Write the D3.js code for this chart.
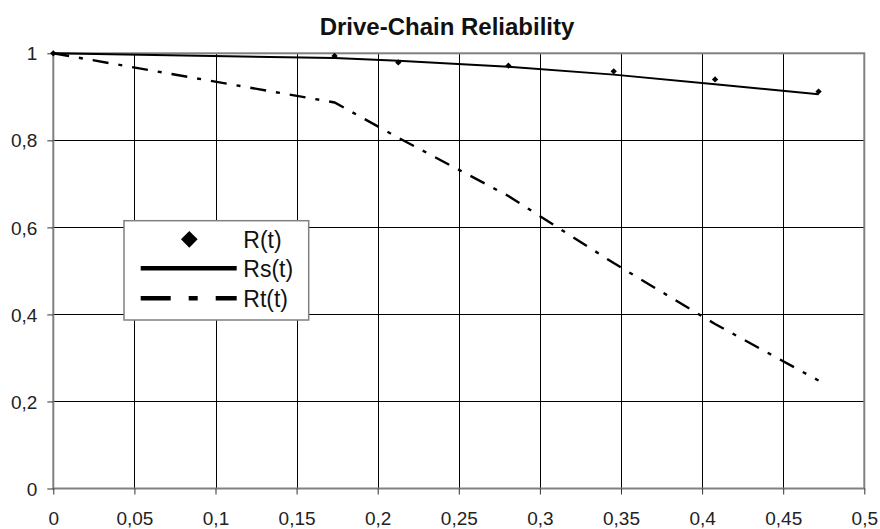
<!DOCTYPE html>
<html>
<head>
<meta charset="utf-8">
<script src="https://cdn.jsdelivr.net/npm/d3@7"></script>
<style>
  html, body { margin: 0; padding: 0; background: #fff; }
  svg { display: block; font-family: "Liberation Sans", Arial, sans-serif; }
</style>
</head>
<body>
<svg id="chart" width="880" height="529"></svg>
<script>
// ---- data ----
const title = "Drive-Chain Reliability";
const tValues = [0, 0.1734, 0.2127, 0.2806, 0.3455, 0.408, 0.4718];
const rValues = [1, 0.994, 0.979, 0.9715, 0.9586, 0.940, 0.912];   // R(t) points
const rsValues = [1, 0.989, 0.983, 0.969, 0.951, 0.929, 0.906];    // Rs(t) solid
const rtValues = [1, 0.887, 0.806, 0.672, 0.518, 0.378, 0.248];    // Rt(t) dash-dot
const xTicks = [0, 0.05, 0.1, 0.15, 0.2, 0.25, 0.3, 0.35, 0.4, 0.45, 0.5];
const xTickLabels = ["0", "0,05", "0,1", "0,15", "0,2", "0,25", "0,3", "0,35", "0,4", "0,45", "0,5"];
const yTicks = [0, 0.2, 0.4, 0.6, 0.8, 1];
const yTickLabels = ["0", "0,2", "0,4", "0,6", "0,8", "1"];
const seriesNames = ["R(t)", "Rs(t)", "Rt(t)"];

// ---- layout ----
const svg = d3.select("#chart");
const pL = 53.3, pR = 864.3, pT = 53.3, pB = 488.5;
const x = d3.scaleLinear().domain([0, 0.5]).range([pL, pR]);
const y = d3.scaleLinear().domain([0, 1]).range([pB, pT]);

// title
svg.append("text")
  .attr("x", 447).attr("y", 35)
  .attr("text-anchor", "middle")
  .attr("font-size", 24).attr("font-weight", "bold")
  .attr("fill", "#111")
  .text(title);

// grid lines
const grid = svg.append("g").attr("stroke", "#000").attr("stroke-width", 1);
grid.selectAll("line.vx").data(xTicks.slice(1, -1)).join("line")
  .attr("x1", d => Math.round(x(d)) + 0.5).attr("x2", d => Math.round(x(d)) + 0.5)
  .attr("y1", pT).attr("y2", pB);
grid.selectAll("line.hy").data(yTicks.slice(1, -1)).join("line")
  .attr("y1", d => Math.round(y(d)) + 0.5).attr("y2", d => Math.round(y(d)) + 0.5)
  .attr("x1", pL).attr("x2", pR);

// plot border (gray)
svg.append("rect")
  .attr("x", pL).attr("y", pT)
  .attr("width", pR - pL).attr("height", pB - pT)
  .attr("fill", "none").attr("stroke", "#808080").attr("stroke-width", 2);

// axes
const xAxis = d3.axisBottom(x).tickValues(xTicks)
  .tickFormat((d, i) => xTickLabels[i]).tickSize(6).tickSizeOuter(0);
const gx = svg.append("g").attr("transform", `translate(0,${pB})`).call(xAxis);
gx.select(".domain").remove();
gx.selectAll(".tick line").attr("stroke", "#333");
gx.selectAll(".tick text")
  .attr("y", 36.5).attr("dy", null)
  .attr("font-size", 19).attr("fill", "#222")
  .style("font-family", '"Liberation Sans", Arial, sans-serif');

const yAxis = d3.axisLeft(y).tickValues(yTicks)
  .tickFormat((d, i) => yTickLabels[i]).tickSize(6).tickSizeOuter(0).tickPadding(10);
const gy = svg.append("g").attr("transform", `translate(${pL},0)`).call(yAxis);
gy.select(".domain").remove();
gy.selectAll(".tick line").attr("stroke", "#333");
gy.selectAll(".tick text")
  .attr("dy", "0.35em")
  .attr("font-size", 19).attr("fill", "#222")
  .style("font-family", '"Liberation Sans", Arial, sans-serif');

// lines
const line = (vals) => d3.line().x((d, i) => x(tValues[i])).y(d => y(d))(vals);
svg.append("path")
  .attr("d", line(rsValues))
  .attr("fill", "none").attr("stroke", "#000").attr("stroke-width", 2);
svg.append("path")
  .attr("d", line(rtValues))
  .attr("fill", "none").attr("stroke", "#000").attr("stroke-width", 2.4)
  .attr("stroke-dasharray", "16,10,4,10");

// markers (diamonds)
const diamond = d3.symbol().type(d3.symbolSquare).size(20);
svg.append("g").selectAll("path").data(rValues).join("path")
  .attr("d", diamond)
  .attr("transform", (d, i) => `translate(${x(tValues[i])},${y(d)}) rotate(45)`)
  .attr("fill", "#000");

// legend
const lg = svg.append("g");
lg.append("rect")
  .attr("x", 124).attr("y", 220.7).attr("width", 184.7).attr("height", 99.3)
  .attr("fill", "#fff").attr("stroke", "#808080").attr("stroke-width", 1.5);
const rows = [239.3, 268.3, 298.3];
lg.append("path")
  .attr("d", d3.symbol().type(d3.symbolSquare).size(139))
  .attr("transform", `translate(189.3,${rows[0]}) rotate(45)`)
  .attr("fill", "#000");
lg.append("line")
  .attr("x1", 140.7).attr("x2", 236.7).attr("y1", rows[1]).attr("y2", rows[1])
  .attr("stroke", "#000").attr("stroke-width", 4.5);
lg.append("line")
  .attr("x1", 140.7).attr("x2", 236.7).attr("y1", rows[2]).attr("y2", rows[2])
  .attr("stroke", "#000").attr("stroke-width", 4.5)
  .attr("stroke-dasharray", "30,18,9,18");
lg.selectAll("text").data(seriesNames).join("text")
  .attr("x", 243.3).attr("y", (d, i) => rows[i] + 8.5)
  .attr("font-size", 23).attr("fill", "#111")
  .text(d => d);
</script>
</body>
</html>
